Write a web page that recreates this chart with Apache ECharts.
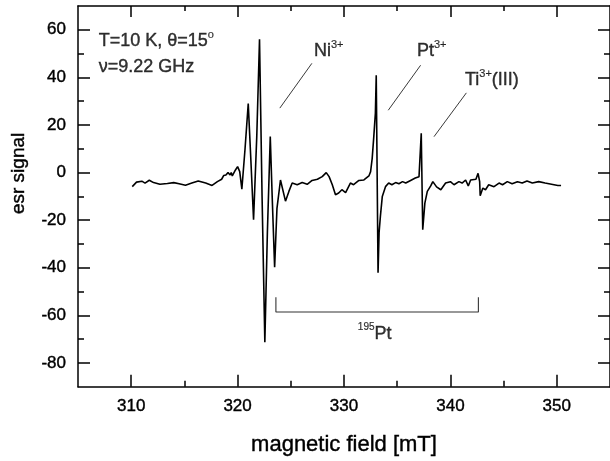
<!DOCTYPE html>
<html><head><meta charset="utf-8">
<script src="https://cdn.jsdelivr.net/npm/echarts@6/dist/echarts.min.js"></script>
<style>html,body{margin:0;padding:0;background:#fff}#c{width:610px;height:461px}</style>
</head><body><div id="c"></div>
<script>
// magnetic field [mT]
const field = [310.1,310.5,311.0,311.3,311.7,312.1,312.7,313.4,314.0,314.5,315.1,315.7,316.3,317.0,317.6,318.1,318.5,318.7,318.9,319.1,319.2,319.3,319.4,319.5,319.8,320.0,320.2,320.4,320.7,321.0,321.25,321.5,321.8,322.06,322.3,322.56,322.8,323.07,323.25,323.48,323.7,324.03,324.5,324.82,325.13,325.6,326.07,326.54,327.0,327.5,327.95,328.33,328.6,328.9,329.2,329.5,329.8,330.15,330.6,330.9,331.4,331.87,332.34,332.5,332.65,332.8,332.95,333.03,333.2,333.3,333.42,333.6,333.9,334.2,334.5,334.85,335.16,335.5,335.8,336.26,336.7,337.05,337.26,337.4,337.6,337.83,338.15,338.35,338.7,339.1,339.55,340.0,340.34,340.8,341.1,341.43,341.68,341.9,342.4,342.6,342.75,342.8,343.05,343.3,343.6,344.1,344.57,344.9,345.35,345.8,346.3,346.75,347.2,347.7,348.3,348.9,349.5,350.1,350.4];
// esr signal
const signal = [-5.9,-4.0,-3.6,-4.4,-3.2,-4.2,-4.9,-4.6,-4.2,-4.7,-5.3,-4.4,-3.5,-4.4,-5.4,-3.8,-2.8,-1.2,-1.0,0.0,-0.5,-1.0,0.0,-1.4,1.1,2.5,0.4,-7.0,10,29.0,5,-19.8,15,56.0,-10,-71.3,-25,15.2,-10,-39.8,-15,-3.1,-12.0,-7.9,-4.4,-5.1,-4.2,-4.9,-3.3,-2.8,-1.7,0.0,-1.7,-5.1,-9.3,-8.6,-7.2,-8.4,-4.4,-5.1,-3.3,-3.1,-1.4,0.4,6.0,15.1,25,40.9,-42.1,-25,-18.4,-10,-5.9,-4.4,-5.1,-4.2,-4.7,-3.8,-4.4,-3.3,-2.3,-1.7,16.5,-24,-12.8,-7.9,-5.6,-3.8,-6.0,-7.2,-4.4,-3.8,-5.1,-3.8,-4.4,-3.1,-5.6,-3.1,-2.8,-0.3,-3.8,-9.7,-6.5,-7.2,-5.1,-5.9,-4.4,-5.1,-3.8,-4.7,-3.8,-4.4,-3.5,-4.4,-3.8,-4.4,-4.9,-5.4,-5.4];

const xMajor = [310,320,330,340,350];
const xMinor = [315,325,335,345];
const yMajor = [-80,-60,-40,-20,0,20,40,60];
const yMinor = [-70,-50,-30,-10,10,30,50];

// annotation pointer lines (field, signal) pairs
const pointerNi = [[323.97,27.1],[326.98,45.9]];
const pointerPt = [[334.16,26.2],[337.2,45.1]];
const pointerTi = [[338.46,15.1],[341.5,33.5]];
const bracket195 = [[323.6,-52.4],[323.6,-58.6],[342.63,-58.6],[342.63,-52.4]];

// annotation texts and anchors
const labelTexts = ['{n|T=10 K, θ=15}{s|o}','{n|ν=9.22 GHz}','{n|Ni}{s|3+}','{n|Pt}{s|3+}','{n|Ti}{s|3+}{n|(III)}','{t|195}{n|Pt}'];
const labelAnchors = [[306.94,55.8],[306.94,44.7],[327.17,51.7],[336.86,51.7],[341.37,39.5],[331.3,-67.2]];

const FONT = 'Liberation Sans, Arial, Helvetica, sans-serif';
const chart = echarts.init(document.getElementById('c'), null, {renderer:'canvas'});

const baseX = {type:'value', min:305, max:355, splitLine:{show:false}};
const baseY = {type:'value', min:-90, max:70, splitLine:{show:false}};
const blk = {color:'#000', width:1.5};
const thick = {textBorderColor:'#000', textBorderWidth:0.4};

const opt = {
  animation:false,
  backgroundColor:'#fff',
  grid:{left:78, right:-2, top:6, bottom:74, containLabel:false},
  xAxis:[
    Object.assign({}, baseX, {position:'bottom',
      axisLine:{show:true, onZero:false, lineStyle:blk},
      axisTick:{show:true, inside:true, length:12, customValues:xMajor, lineStyle:blk},
      axisLabel:Object.assign({show:true, customValues:xMajor, fontSize:17, color:'#000', margin:11, fontFamily:FONT}, thick),
      name:'magnetic field [mT]', nameLocation:'middle', nameGap:47,
      nameTextStyle:Object.assign({fontSize:22, color:'#000', fontFamily:FONT}, thick)}),
    Object.assign({}, baseX, {position:'bottom',
      axisLine:{show:false, onZero:false},
      axisTick:{show:true, inside:true, length:6, customValues:xMinor, lineStyle:blk},
      axisLabel:{show:false}}),
    Object.assign({}, baseX, {position:'top',
      axisLine:{show:true, onZero:false, lineStyle:blk},
      axisTick:{show:true, inside:true, length:11, customValues:xMajor, lineStyle:blk},
      axisLabel:{show:false}}),
    Object.assign({}, baseX, {position:'top',
      axisLine:{show:false, onZero:false},
      axisTick:{show:true, inside:true, length:5, customValues:xMinor, lineStyle:blk},
      axisLabel:{show:false}})
  ],
  yAxis:[
    Object.assign({}, baseY, {position:'left',
      axisLine:{show:true, onZero:false, lineStyle:blk},
      axisTick:{show:true, inside:true, length:12, customValues:yMajor, lineStyle:blk},
      axisLabel:Object.assign({show:true, customValues:yMajor, fontSize:17, color:'#000', margin:12, fontFamily:FONT}, thick),
      name:'esr signal', nameLocation:'middle', nameGap:50, nameRotate:90,
      nameTextStyle:Object.assign({fontSize:19, color:'#000', fontFamily:FONT, padding:[0,0,0,46]}, thick)}),
    Object.assign({}, baseY, {position:'left',
      axisLine:{show:false, onZero:false},
      axisTick:{show:true, inside:true, length:6, customValues:yMinor, lineStyle:blk},
      axisLabel:{show:false}}),
    Object.assign({}, baseY, {position:'right',
      axisLine:{show:true, onZero:false, lineStyle:blk},
      axisTick:{show:true, inside:true, length:12, customValues:yMajor, lineStyle:blk},
      axisLabel:{show:false}}),
    Object.assign({}, baseY, {position:'right',
      axisLine:{show:false, onZero:false},
      axisTick:{show:true, inside:true, length:6, customValues:yMinor, lineStyle:blk},
      axisLabel:{show:false}})
  ],
  series:[
    {type:'line', xAxisIndex:0, yAxisIndex:0, data: field.map((f,i)=>[f, signal[i]]),
     showSymbol:false, symbol:'none', lineStyle:{color:'#000', width:1.6}, z:5},
    ...[pointerNi, pointerPt, pointerTi].map(p=>({type:'line', data:p, symbol:'none',
      lineStyle:{color:'#222', width:0.9}, z:4})),
    {type:'line', data:bracket195, symbol:'none', lineStyle:{color:'#333', width:1.1}, z:4},
    {type:'scatter', symbolSize:0, z:6,
     data: labelAnchors.map((a,i)=>({value:a, label:{formatter:labelTexts[i]}})),
     label:{show:true, position:'right', distance:0, color:'#000',
       rich:{
         n:Object.assign({fontSize:18, fontFamily:FONT, color:'#000', lineHeight:20, verticalAlign:'bottom'}, thick),
         s:Object.assign({fontSize:11, fontFamily:FONT, color:'#000', lineHeight:20, verticalAlign:'top'}, {textBorderColor:'#000', textBorderWidth:0.2}),
         t:Object.assign({fontSize:10, fontFamily:FONT, color:'#000', lineHeight:20, verticalAlign:'top'}, {textBorderColor:'#000', textBorderWidth:0.2})
       }}}
  ]
};
chart.setOption(opt);
</script></body></html>
